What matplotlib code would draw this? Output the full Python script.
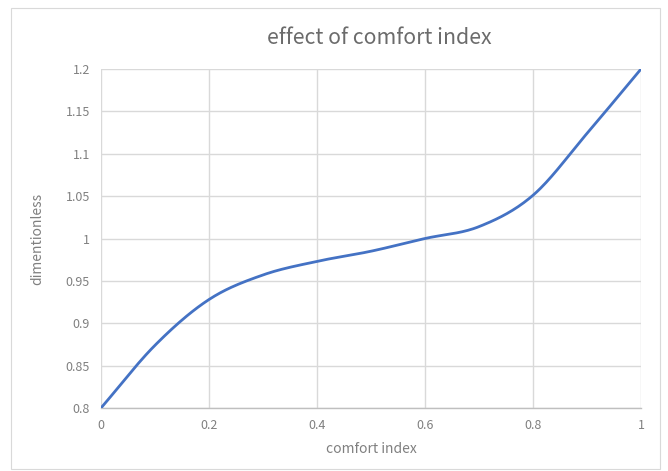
import numpy as np
import matplotlib
matplotlib.use("Agg")
import matplotlib.pyplot as plt
from matplotlib.patches import Rectangle
from matplotlib.ticker import FuncFormatter

plt.rcParams['font.family'] = ['Noto Sans CJK SC', 'DejaVu Sans']

comfort_index = [0.0, 0.1, 0.2, 0.3, 0.4, 0.5, 0.6, 0.7, 0.8, 0.9, 1.0]
dimensionless = [0.8, 0.874, 0.928, 0.957, 0.973, 0.985, 1.0, 1.014, 1.051, 1.124, 1.2]

x_ticks = [0, 0.2, 0.4, 0.6, 0.8, 1]
y_ticks = [0.8, 0.85, 0.9, 0.95, 1.0, 1.05, 1.1, 1.15, 1.2]

title = "effect of comfort index"
x_label = "comfort index"
y_label = "dimentionless"


def smooth_curve(xs, ys, samples=30):
    """Catmull-Rom style smoothing through the data points (like a smoothed line chart)."""
    xs = np.asarray(xs, float)
    ys = np.asarray(ys, float)
    px = np.concatenate([[2 * xs[0] - xs[1]], xs, [2 * xs[-1] - xs[-2]]])
    py = np.concatenate([[2 * ys[0] - ys[1]], ys, [2 * ys[-1] - ys[-2]]])
    out_x, out_y = [], []
    t = np.linspace(0, 1, samples)
    for i in range(1, len(px) - 2):
        p0x, p1x, p2x, p3x = px[i - 1:i + 3]
        p0y, p1y, p2y, p3y = py[i - 1:i + 3]
        c1x, c1y = p1x + (p2x - p0x) / 6, p1y + (p2y - p0y) / 6
        c2x, c2y = p2x - (p3x - p1x) / 6, p2y - (p3y - p1y) / 6
        bx = (1 - t) ** 3 * p1x + 3 * (1 - t) ** 2 * t * c1x + 3 * (1 - t) * t ** 2 * c2x + t ** 3 * p2x
        by = (1 - t) ** 3 * p1y + 3 * (1 - t) ** 2 * t * c1y + 3 * (1 - t) * t ** 2 * c2y + t ** 3 * p2y
        out_x.extend(bx if i == 1 else bx[1:])
        out_y.extend(by if i == 1 else by[1:])
    return np.array(out_x), np.array(out_y)


fig = plt.figure(figsize=(6.68, 4.71), dpi=100)
fig.patch.set_facecolor("white")
fig.patches.append(Rectangle((11 / 668, 2 / 471), 649 / 668, 461 / 471,
                             transform=fig.transFigure, fill=False,
                             edgecolor="#d9d9d9", linewidth=0.8))

ax = fig.add_axes([101 / 668, 1 - 408 / 471, 540 / 668, 339 / 471])

sx, sy = smooth_curve(comfort_index, dimensionless)
ax.plot(sx, sy, color="#4472C4", linewidth=2.0, solid_capstyle="round", zorder=3)

ax.set_xlim(0, 1)
ax.set_ylim(0.8, 1.2)
ax.set_xticks(x_ticks)
ax.set_yticks(y_ticks)
fmt = FuncFormatter(lambda v, p: f"{v:g}")
ax.xaxis.set_major_formatter(fmt)
ax.yaxis.set_major_formatter(fmt)

ax.grid(True, color="#d9d9d9", linewidth=1.0)
ax.set_axisbelow(True)
for side in ["top", "right", "left"]:
    ax.spines[side].set_visible(False)
ax.spines["bottom"].set_color("#bfbfbf")
ax.spines["bottom"].set_linewidth(1.0)
ax.tick_params(length=0, labelsize=9, labelcolor="#808080", pad=8)
for lbl in ax.get_xticklabels() + ax.get_yticklabels():
    lbl.set_fontweight("light")

ax.set_title(title, fontsize=15.3, color="#6b6b6b", pad=18, fontweight="light", x=0.515)
ax.set_xlabel(x_label, fontsize=10, color="#808080", labelpad=7, fontweight="light")
ax.set_ylabel(y_label, fontsize=10, color="#808080", labelpad=15, fontweight="light")

fig.savefig("out.png", dpi=100)
